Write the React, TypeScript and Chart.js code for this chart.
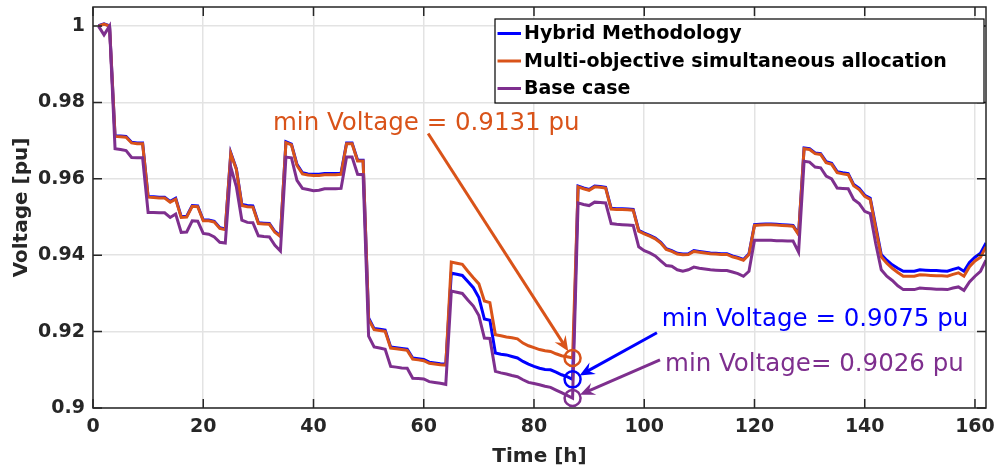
import { useEffect, useRef } from "react";
import { Chart, registerables } from "chart.js";

Chart.register(...registerables);

// Hourly time axis (h)
const hours: number[] = Array.from({ length: 162 }, (_, i) => i + 1);

// Bus voltage (pu) per hour
const hybridV = [
  1.0001, 1.0006, 1.0001, 0.9713, 0.9712, 0.9711, 0.9696, 0.9694, 0.9694, 0.9554,
  0.9553, 0.9552, 0.9552, 0.9541, 0.9549, 0.9501, 0.9502, 0.953, 0.9529, 0.9492,
  0.9492, 0.9489, 0.9472, 0.9469, 0.9668, 0.9627, 0.9533, 0.953, 0.9529, 0.9485,
  0.9484, 0.9483, 0.9462, 0.9451, 0.9697, 0.9691, 0.9638, 0.9616, 0.9613, 0.9612,
  0.9612, 0.9614, 0.9614, 0.9614, 0.9615, 0.9694, 0.9694, 0.9649, 0.9649, 0.9236,
  0.9208, 0.9206, 0.9204, 0.916, 0.9158, 0.9156, 0.9154, 0.9131, 0.9129, 0.9127,
  0.912, 0.9118, 0.9116, 0.9115, 0.9353, 0.935, 0.9347, 0.9331, 0.9315, 0.9289,
  0.9233, 0.923, 0.9144, 0.9141, 0.9139, 0.9135, 0.9131, 0.9122, 0.9115, 0.9109,
  0.9104, 0.9101, 0.91, 0.9094, 0.9087, 0.9082, 0.9075, 0.9581, 0.9576, 0.9572,
  0.9581, 0.958, 0.9578, 0.9523, 0.9522, 0.9522, 0.9521, 0.952, 0.9465, 0.9458,
  0.9452, 0.9445, 0.9434, 0.9417, 0.9412, 0.9405, 0.9403, 0.9404, 0.9412, 0.941,
  0.9408, 0.9406, 0.9405, 0.9404, 0.9404, 0.9398, 0.9394, 0.9389, 0.9404, 0.948,
  0.9481, 0.9482, 0.9482, 0.9481, 0.948, 0.9479, 0.9478, 0.9456, 0.9681, 0.9679,
  0.9668, 0.9666, 0.9645, 0.9641, 0.9619, 0.9616, 0.9614, 0.9585, 0.9575, 0.9557,
  0.9549, 0.9476, 0.9402, 0.9387, 0.9375, 0.9366, 0.9358, 0.9358, 0.9358, 0.9362,
  0.9361, 0.936, 0.936, 0.9359, 0.9358, 0.9363, 0.9367, 0.9358, 0.9381, 0.9395,
  0.9405, 0.9432,
];

const multiObjV = [
  1.0, 1.0005, 1.0, 0.9711, 0.971, 0.9709, 0.9694, 0.9692, 0.9692, 0.9552,
  0.9551, 0.955, 0.955, 0.9539, 0.9547, 0.9499, 0.95, 0.9528, 0.9527, 0.949,
  0.949, 0.9487, 0.947, 0.9467, 0.9666, 0.9625, 0.953, 0.9527, 0.9526, 0.9483,
  0.9482, 0.9481, 0.946, 0.9449, 0.9695, 0.9689, 0.9635, 0.9613, 0.961, 0.9609,
  0.9609, 0.9611, 0.9611, 0.9611, 0.9612, 0.9692, 0.9692, 0.9647, 0.9647, 0.9232,
  0.9205, 0.9203, 0.9201, 0.9157, 0.9155, 0.9153, 0.9151, 0.9128, 0.9126, 0.9124,
  0.9117, 0.9115, 0.9113, 0.9112, 0.9382, 0.9379, 0.9376, 0.9358, 0.9341, 0.9325,
  0.928, 0.9276, 0.9192, 0.9189, 0.9186, 0.9184, 0.9181, 0.917, 0.9163, 0.9158,
  0.9153, 0.915, 0.9148, 0.9142, 0.9137, 0.9134, 0.9131, 0.9579, 0.9574, 0.957,
  0.9579, 0.9578, 0.9576, 0.9521, 0.952, 0.952, 0.9519, 0.9518, 0.9463, 0.9456,
  0.945, 0.9443, 0.9432, 0.9415, 0.941, 0.9403, 0.9401, 0.9402, 0.941, 0.9408,
  0.9406, 0.9404, 0.9403, 0.9402, 0.9402, 0.9396, 0.9392, 0.9387, 0.9402, 0.9478,
  0.9479, 0.948, 0.948, 0.9479, 0.9478, 0.9477, 0.9476, 0.9454, 0.9679, 0.9677,
  0.9666, 0.9664, 0.9642, 0.9638, 0.9616, 0.9613, 0.9611, 0.9582, 0.9572, 0.9554,
  0.9546, 0.947, 0.9396, 0.9379, 0.9366, 0.9355, 0.9345, 0.9345, 0.9345, 0.9349,
  0.9348, 0.9347, 0.9346, 0.9346, 0.9345, 0.935, 0.9354, 0.9345, 0.937, 0.9385,
  0.9395, 0.9422,
];

const baseV = [
  1.0, 0.9977, 1.0, 0.9679, 0.9677, 0.9674, 0.9656, 0.9655, 0.9655, 0.9512,
  0.9512, 0.9511, 0.9511, 0.9499, 0.9508, 0.946, 0.9461, 0.949, 0.9489, 0.9457,
  0.9455, 0.9448, 0.9434, 0.9432, 0.9631, 0.958, 0.9492, 0.9486, 0.9485, 0.9451,
  0.9449, 0.9448, 0.9426, 0.9411, 0.9657, 0.9655, 0.9596, 0.9575, 0.9572, 0.9569,
  0.957, 0.9574, 0.9574, 0.9574, 0.9575, 0.9657, 0.9657, 0.9612, 0.9611, 0.9188,
  0.916, 0.9157, 0.9154, 0.9109, 0.9107, 0.9105, 0.9104, 0.9078, 0.9077, 0.9076,
  0.9069, 0.9067, 0.9065, 0.9062, 0.9306, 0.9303, 0.93, 0.9283, 0.9267, 0.9242,
  0.9183, 0.9182, 0.9096, 0.9092, 0.9089, 0.9085, 0.9082, 0.9074, 0.9067, 0.9064,
  0.9061, 0.9057, 0.9054, 0.9047, 0.904, 0.9033, 0.9026, 0.9537, 0.9533, 0.953,
  0.9539, 0.9538, 0.9537, 0.9483, 0.9481, 0.948, 0.9479, 0.9478, 0.9422, 0.9412,
  0.9406, 0.9398, 0.9385, 0.9373, 0.9371, 0.9362, 0.9358, 0.9362, 0.9369, 0.9366,
  0.9364, 0.9362, 0.9361, 0.936, 0.936, 0.9356, 0.9352, 0.9345, 0.9358, 0.9439,
  0.9439, 0.9439, 0.9439, 0.9438, 0.9438, 0.9437, 0.9437, 0.9408, 0.9646, 0.9644,
  0.9631, 0.9629, 0.9607, 0.96, 0.9576, 0.9575, 0.9574, 0.9546, 0.9535, 0.9515,
  0.9509, 0.943, 0.9362, 0.9345, 0.9334, 0.932, 0.931, 0.931, 0.931, 0.9314,
  0.9313, 0.9312, 0.9311, 0.9311, 0.931, 0.9314, 0.9317, 0.9308, 0.933, 0.9345,
  0.9358, 0.9387,
];

const seriesNames = ["Hybrid Methodology", "Multi-objective simultaneous allocation", "Base case"];
const seriesColors = ["#0000FF", "#D95319", "#7E2F8E"];

const xTicks = [0, 20, 40, 60, 80, 100, 120, 140, 160];
const yTicks = [0.9, 0.92, 0.94, 0.96, 0.98, 1];

// Hour at which the marked minimum voltages occur
const minHour = 87;

// Callout placement, in axis units: text start/baseline and arrow tail
const callouts = [
  { series: 1, label: "min Voltage = ", textX: 32.65, textY: 0.97292, tailX: 60.8, tailY: 0.97187 },
  { series: 0, label: "min Voltage = ", textX: 103.17, textY: 0.92136, tailX: 102.3, tailY: 0.91971 },
  { series: 2, label: "min Voltage= ", textX: 103.77, textY: 0.90957, tailX: 102.86, tailY: 0.91263 },
];

const AXIS_COLOR = "#262626";
const GRID_COLOR = "#e3e3e3";
const FONT = '"DejaVu Sans"';

function drawArrow(ctx: CanvasRenderingContext2D, x0: number, y0: number, x1: number, y1: number, color: string) {
  const ang = Math.atan2(y1 - y0, x1 - x0);
  const ux = Math.cos(ang), uy = Math.sin(ang);
  const nx = -uy, ny = ux;
  const hl = 15, hw = 6.5;
  ctx.strokeStyle = color;
  ctx.fillStyle = color;
  ctx.lineWidth = 3;
  ctx.lineCap = "butt";
  ctx.beginPath();
  ctx.moveTo(x0, y0);
  ctx.lineTo(x1 - ux * hl * 0.6, y1 - uy * hl * 0.6);
  ctx.stroke();
  ctx.beginPath();
  ctx.moveTo(x1, y1);
  ctx.lineTo(x1 - ux * hl + nx * hw, y1 - uy * hl + ny * hw);
  ctx.lineTo(x1 - ux * hl * 0.65, y1 - uy * hl * 0.65);
  ctx.lineTo(x1 - ux * hl - nx * hw, y1 - uy * hl - ny * hw);
  ctx.closePath();
  ctx.fill();
}

const framePlugin = {
  id: "frame",
  afterDatasetsDraw(chart: any) {
    const { ctx, chartArea, scales } = chart;
    const { left, right, top, bottom } = chartArea;
    const x = scales.x, y = scales.y;
    ctx.save();
    ctx.strokeStyle = AXIS_COLOR;
    ctx.lineWidth = 1.5;
    ctx.strokeRect(left, top, right - left, bottom - top);
    const len = 9;
    ctx.beginPath();
    for (const v of xTicks) {
      const px = x.getPixelForValue(v);
      ctx.moveTo(px, bottom);
      ctx.lineTo(px, bottom - len);
      ctx.moveTo(px, top);
      ctx.lineTo(px, top + len);
    }
    for (const v of yTicks) {
      const py = y.getPixelForValue(v);
      ctx.moveTo(left, py);
      ctx.lineTo(left + len, py);
      ctx.moveTo(right, py);
      ctx.lineTo(right - len, py);
    }
    ctx.stroke();
    ctx.restore();
  },
};

const seriesData = [hybridV, multiObjV, baseV];

const calloutPlugin = {
  id: "callouts",
  afterDatasetsDraw(chart: any) {
    const { ctx, scales } = chart;
    const x = scales.x, y = scales.y;
    const idx = hours.indexOf(minHour);
    ctx.save();
    for (const c of callouts) {
      const color = seriesColors[c.series];
      const value = seriesData[c.series][idx];
      const cx = x.getPixelForValue(minHour);
      const cy = y.getPixelForValue(value);
      const r = 8;
      // circle around the minimum
      ctx.strokeStyle = color;
      ctx.lineWidth = 2.5;
      ctx.beginPath();
      ctx.arc(cx, cy, r, 0, Math.PI * 2);
      ctx.stroke();
      // arrow from the text towards the circle
      const tx = x.getPixelForValue(c.tailX);
      const ty = y.getPixelForValue(c.tailY);
      const d = Math.hypot(cx - tx, cy - ty);
      const hx = cx - ((cx - tx) / d) * r;
      const hy = cy - ((cy - ty) / d) * r;
      drawArrow(ctx, tx, ty, hx, hy, color);
      // label
      ctx.fillStyle = color;
      ctx.font = `24.5px ${FONT}`;
      ctx.textAlign = "left";
      ctx.textBaseline = "alphabetic";
      ctx.fillText(`${c.label}${value.toFixed(4)} pu`, x.getPixelForValue(c.textX), y.getPixelForValue(c.textY));
    }
    ctx.restore();
  },
};

const legendPlugin = {
  id: "boxLegend",
  afterDraw(chart: any) {
    const { ctx, chartArea } = chart;
    const boxRight = chartArea.right - 2;
    const boxTop = chartArea.top + 12;
    const boxW = 489;
    const boxH = 84;
    const boxLeft = boxRight - boxW;
    ctx.save();
    ctx.fillStyle = "#ffffff";
    ctx.fillRect(boxLeft, boxTop, boxW, boxH);
    ctx.strokeStyle = "#000000";
    ctx.lineWidth = 1.2;
    ctx.strokeRect(boxLeft, boxTop, boxW, boxH);
    ctx.font = `bold 19px ${FONT}`;
    ctx.textAlign = "left";
    ctx.textBaseline = "middle";
    seriesNames.forEach((name, i) => {
      const rowY = boxTop + 14.5 + i * 27.5;
      ctx.strokeStyle = seriesColors[i];
      ctx.lineWidth = 3;
      ctx.beginPath();
      ctx.moveTo(boxLeft + 2.5, rowY);
      ctx.lineTo(boxLeft + 26, rowY);
      ctx.stroke();
      ctx.fillStyle = "#000000";
      ctx.fillText(name, boxLeft + 29, rowY + 1);
    });
    ctx.restore();
  },
};

export default function App() {
  const canvasRef = useRef<HTMLCanvasElement | null>(null);

  useEffect(() => {
    const canvas = canvasRef.current;
    if (!canvas) return;
    const mk = (vals: number[]) => vals.map((v, i) => ({ x: hours[i], y: v }));
    const chart = new Chart(canvas, {
      type: "line",
      data: {
        datasets: [
          { label: seriesNames[0], data: mk(hybridV), borderColor: seriesColors[0], borderWidth: 3, pointRadius: 0, tension: 0, order: 3 },
          { label: seriesNames[1], data: mk(multiObjV), borderColor: seriesColors[1], borderWidth: 3, pointRadius: 0, tension: 0, order: 2 },
          { label: seriesNames[2], data: mk(baseV), borderColor: seriesColors[2], borderWidth: 3, pointRadius: 0, tension: 0, order: 1 },
        ],
      },
      options: {
        responsive: false,
        animation: false,
        devicePixelRatio: 1,
        layout: { padding: { left: 0, right: 11, top: 7, bottom: 0 } },
        plugins: { legend: { display: false }, tooltip: { enabled: false } },
        scales: {
          x: {
            type: "linear",
            min: 0,
            max: 162,
            afterBuildTicks: (s: any) => {
              s.ticks = xTicks.map((v) => ({ value: v }));
            },
            afterFit: (s: any) => {
              s.height = 66;
              s.paddingLeft = 0;
              s.paddingRight = 0;
            },
            grid: { color: GRID_COLOR, lineWidth: 1.5, drawTicks: false },
            border: { display: false },
            ticks: {
              autoSkip: false,
              maxRotation: 0,
              padding: 8,
              color: AXIS_COLOR,
              font: { family: FONT, size: 19, weight: "bold" },
              callback: (v: any) => String(v),
            },
            title: {
              display: true,
              text: "Time [h]",
              color: AXIS_COLOR,
              font: { family: FONT, size: 20, weight: "bold" },
              padding: { top: 0, bottom: 5 },
            },
          },
          y: {
            type: "linear",
            min: 0.9,
            max: 1.005,
            afterBuildTicks: (s: any) => {
              s.ticks = yTicks.map((v) => ({ value: v }));
            },
            afterFit: (s: any) => {
              s.width = 93;
              s.paddingTop = 0;
              s.paddingBottom = 0;
            },
            grid: { color: GRID_COLOR, lineWidth: 1.5, drawTicks: false },
            border: { display: false },
            ticks: {
              padding: 8,
              color: AXIS_COLOR,
              font: { family: FONT, size: 19, weight: "bold" },
              callback: (v: any) => String(Number(Number(v).toFixed(2))),
            },
            title: {
              display: true,
              text: "Voltage [pu]",
              color: AXIS_COLOR,
              font: { family: FONT, size: 20, weight: "bold" },
              padding: { top: 10, bottom: 0 },
            },
          },
        },
      },
      plugins: [framePlugin, calloutPlugin, legendPlugin],
    });
    return () => chart.destroy();
  }, []);

  return (
    <div style={{ position: "fixed", left: 0, top: 0, width: 997, height: 474, background: "#ffffff" }}>
      <canvas ref={canvasRef} width={997} height={474} style={{ display: "block" }} />
    </div>
  );
}
